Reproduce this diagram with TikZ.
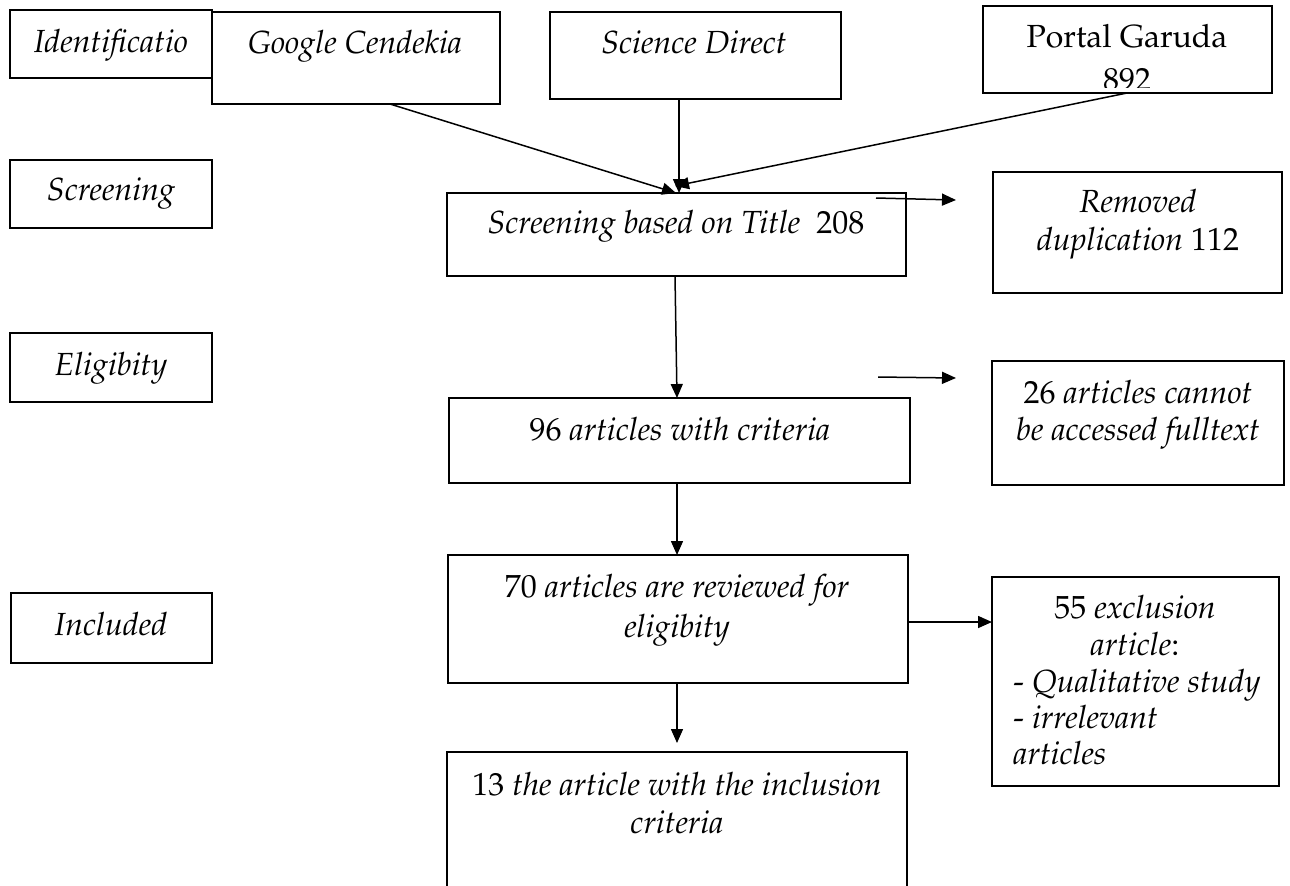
\documentclass[tikz,border=0pt]{standalone}
\usepackage[T1]{fontenc}
\usepackage{mathpazo}
\usetikzlibrary{arrows.meta,fit}
\begin{document}
\begin{tikzpicture}[x=0.5pt,y=-0.5pt,
  box/.style={draw,line width=0.9pt,inner sep=0pt,fit={#1}},
  txt/.style={anchor=base,inner sep=0pt,font=\fontsize{16}{19}\selectfont},
  ltxt/.style={anchor=base west,inner sep=0pt,font=\fontsize{16}{19}\selectfont},
  arr/.style={line width=0.75pt,-{Triangle[length=7pt,width=6pt]}}]
\useasboundingbox (0,0) rectangle (1290,885);
\clip (0,0) rectangle (1290,885);
% stage labels
\node[box={(10,10) (212,78)}] (ident) {};
\node[txt] (tident) at (111,52) {\textit{Identificatio}};
\node[box={(10,160) (212,228)}] (screen) {};
\node[txt] (tscreen) at (111,200) {\textit{Screening}};
\node[box={(10,333) (212,402)}] (elig) {};
\node[txt] (telig) at (111,375) {\textit{Eligibity}};
\node[box={(11,593) (212,663)}] (incl) {};
\node[txt] (tincl) at (111,635) {\textit{Included}};
% sources
\node[box={(212,12) (500,104)}] (google) {};
\node[txt] (tgoogle) at (355,53) {\textit{Google Cendekia}};
\node[box={(550,12) (841,99)}] (science) {};
\node[txt] (tscience) at (694,53) {\textit{Science Direct}};
\node[box={(983,6) (1272,93)}] (portal) {};
\node[txt] (tportal) at (1127,47) {Portal Garuda};
\begin{scope}
\clip (983,6) rectangle (1272,87);
\node[txt] (tportalb) at (1127,90) {892};
\end{scope}
% main column
\node[box={(447,193) (906,276)}] (title) {};
\node[txt] (ttitle) at (676,233) {\textit{Screening based on Title}\ \ 208};
\node[box={(449,398) (910,483)}] (crit) {};
\node[txt] (tcrit) at (680,440) {96 \textit{articles with criteria}};
\node[box={(448,555) (908,683)}] (rev) {};
\node[txt] (treva) at (677,597) {70 \textit{articles are reviewed for}};
\node[txt] (trevb) at (677,637) {\textit{eligibity}};
\node[box={(447,752) (907,900)}] (inc) {};
\node[txt] (tinca) at (677,795) {13 \textit{the article with the inclusion}};
\node[txt] (tincb) at (677,833) {\textit{criteria}};
% right column
\node[box={(993,172) (1282,293)}] (dup) {};
\node[txt] (tdupa) at (1138,212) {\textit{Removed}};
\node[txt] (tdupb) at (1138,250) {\textit{duplication} 112};
\node[box={(992,361) (1284,485)}] (full) {};
\node[txt] (tfulla) at (1138,403) {26 \textit{articles cannot}};
\node[txt] (tfullb) at (1138,440) {\textit{be accessed fulltext}};
\node[box={(992,577) (1279,786)}] (excl) {};
\node[txt] (texa) at (1135,618) {55 \textit{exclusion}};
\node[txt] (texb) at (1135,655) {\textit{article}:};
\node[ltxt] (texc) at (1013,692) {- \textit{Qualitative study}};
\node[ltxt] (texd) at (1013,728) {- \textit{irrelevant}};
\node[ltxt] (texe) at (1013,764) {\textit{articles}};
% connector end points
\coordinate (gs) at (390,104);
\coordinate (ss) at (679,99);
\coordinate (ps) at (1127,93);
\coordinate (cg) at (676,193);
\coordinate (cs) at (679,193);
\coordinate (cp) at (675,186);
\coordinate (ta) at (675,276);
\coordinate (ca) at (677,398);
\coordinate (cb) at (677,483);
\coordinate (ra) at (677,555);
\coordinate (rb) at (677,683);
\coordinate (ia) at (677,743);
\coordinate (d1) at (876,198);
\coordinate (d2) at (956,200);
\coordinate (f1) at (878,377);
\coordinate (f2) at (956,378);
\coordinate (e1) at (908,622);
\coordinate (e2) at (992,622);
% connectors
\draw[arr] (gs) -- (cg);
\draw[arr] (ss) -- (cs);
\draw[arr] (ps) -- (cp);
\draw[arr] (ta) -- (ca);
\draw[arr] (cb) -- (ra);
\draw[arr] (rb) -- (ia);
\draw[arr] (d1) -- (d2);
\draw[arr] (f1) -- (f2);
\draw[arr] (e1) -- (e2);
\end{tikzpicture}
\end{document}
